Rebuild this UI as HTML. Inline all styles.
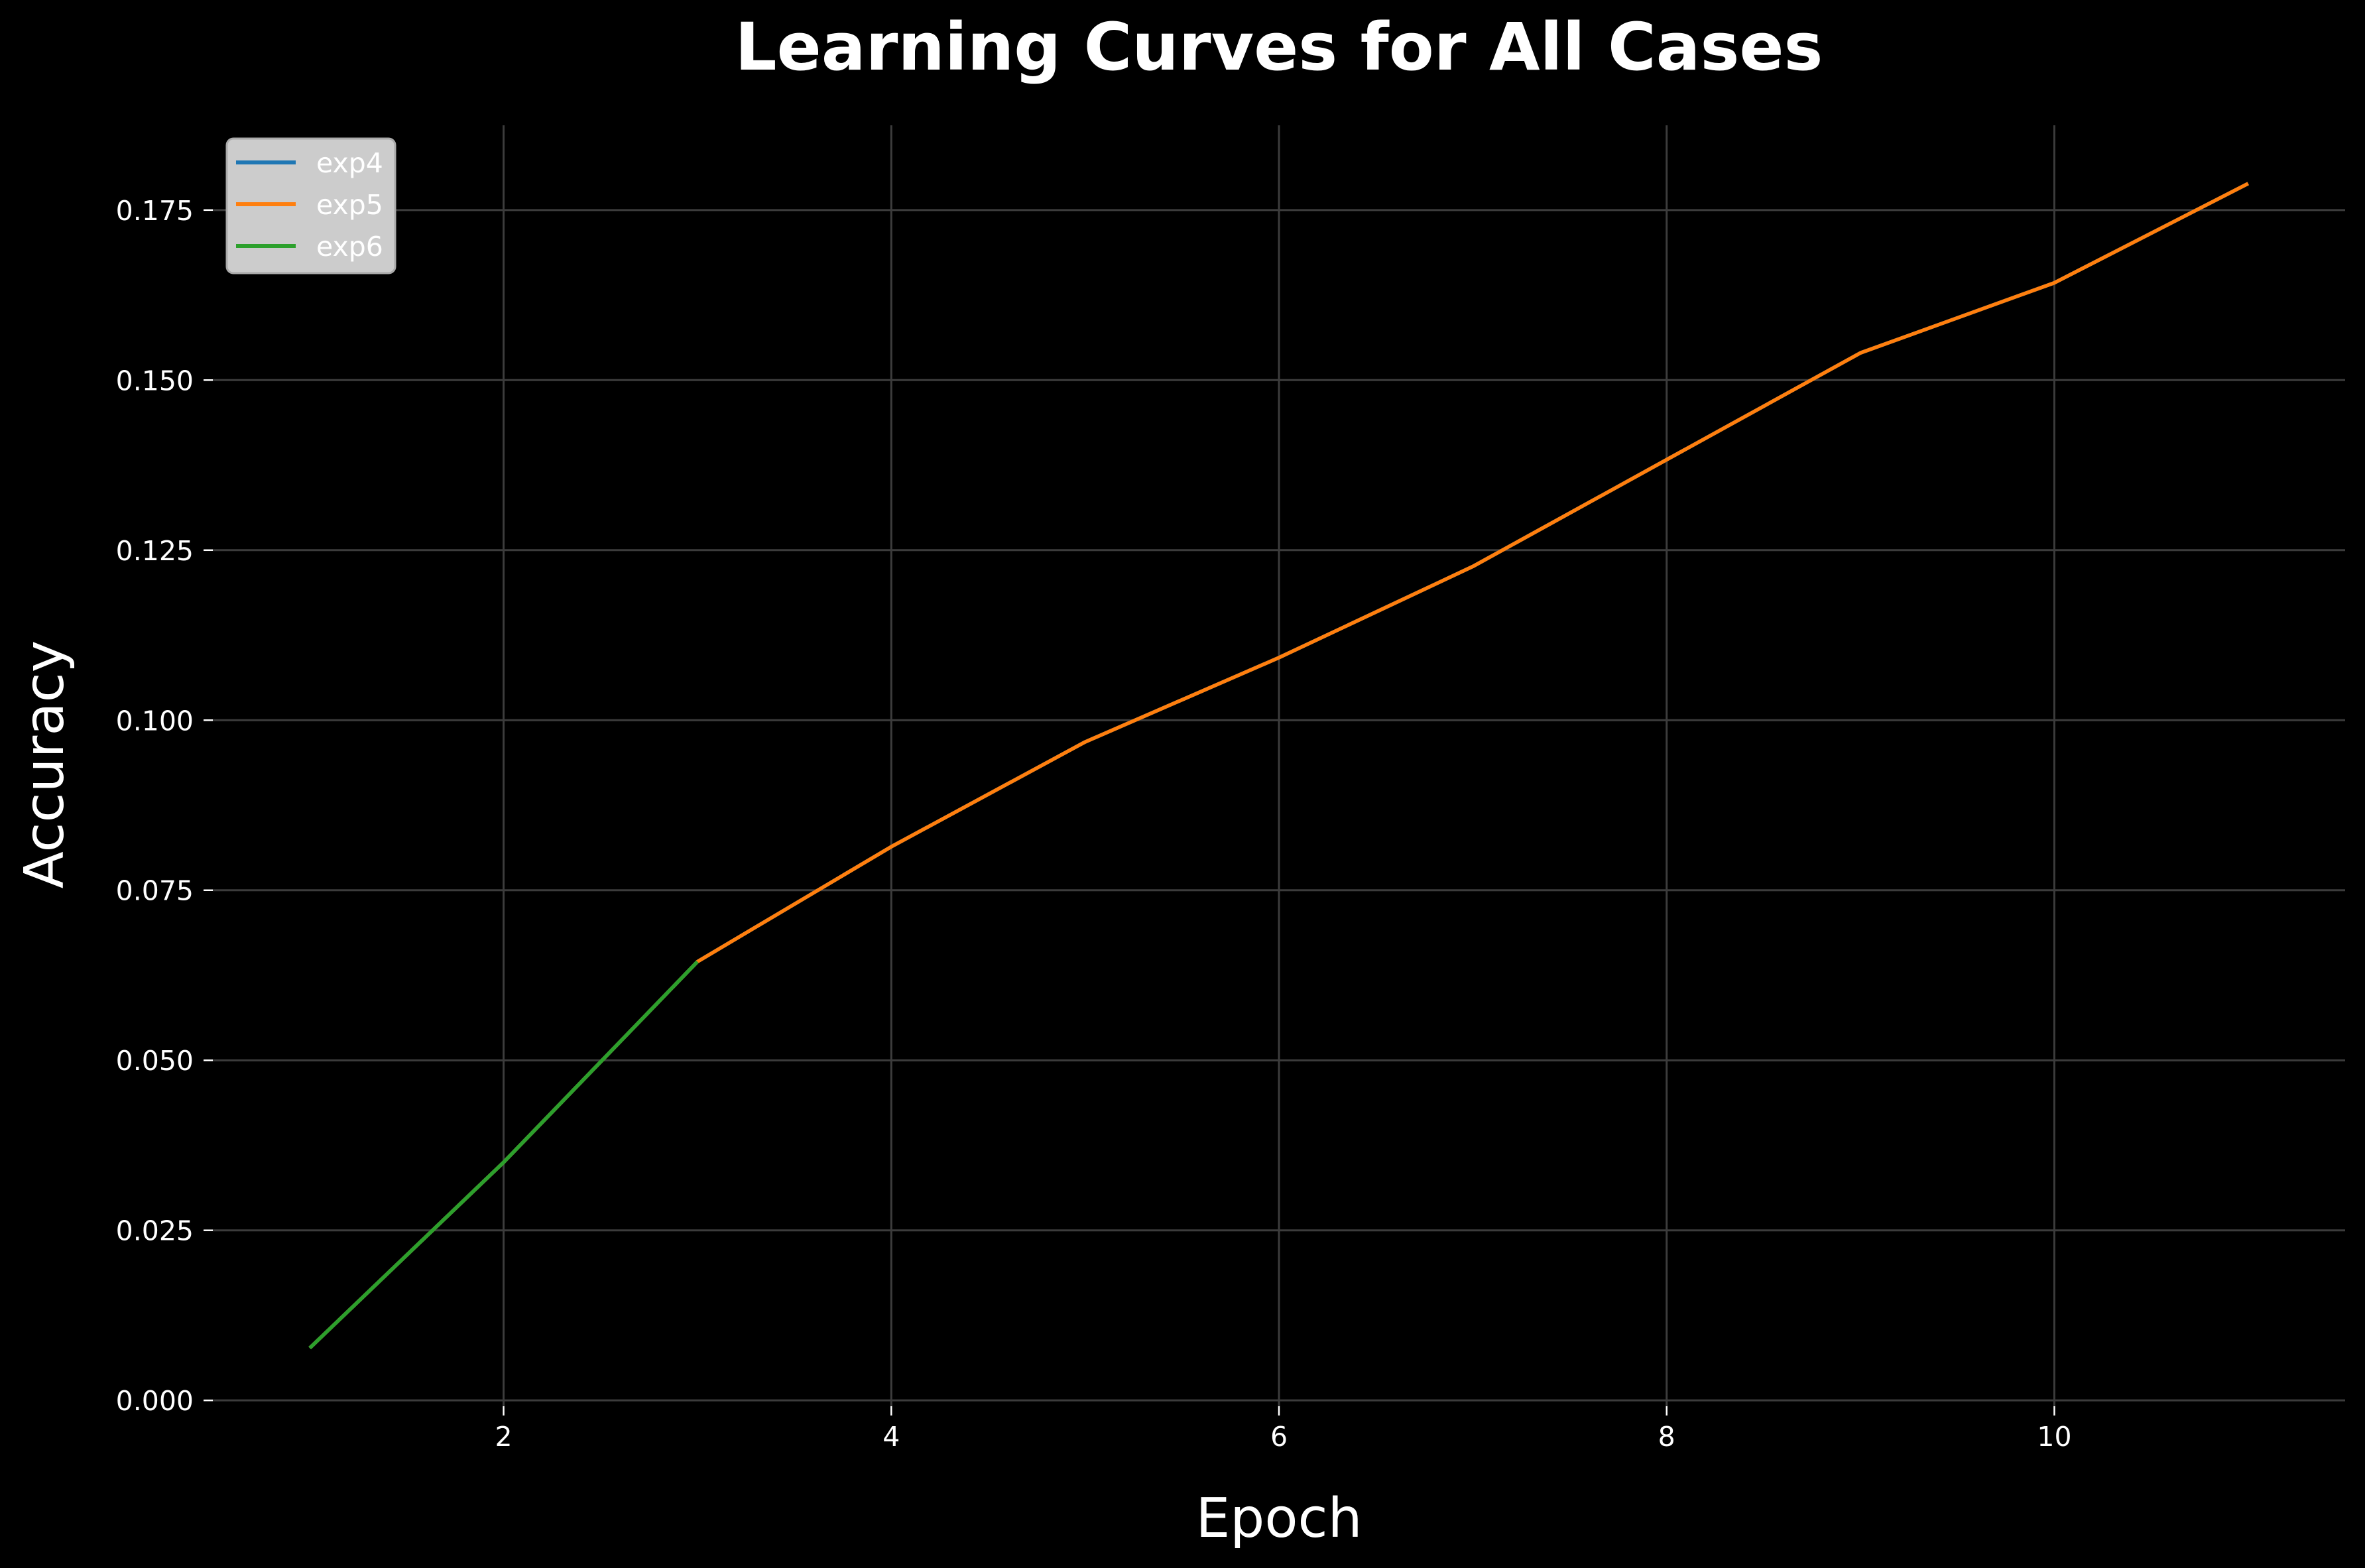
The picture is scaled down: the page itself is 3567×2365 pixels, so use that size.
<!DOCTYPE html>
<html><head><meta charset="utf-8"><style>
html,body{margin:0;padding:0;background:#000;}
svg{display:block;font-family:"DejaVu Sans","Liberation Sans",sans-serif;}
</style></head><body>
<svg id="chart" width="3567" height="2365" viewBox="0 0 3567 2365" xmlns="http://www.w3.org/2000/svg">
<rect width="3567" height="2365" fill="#000"/>
<text x="1929" y="105" fill="#fff" font-size="99" font-weight="bold" text-anchor="middle">Learning Curves for All Cases</text>
<g id="grid"></g>
<g id="ticks"></g>
<g id="series"></g>
<text x="1929" y="2318" fill="#fff" font-size="82" text-anchor="middle">Epoch</text>
<text x="0" y="0" transform="translate(95,1153) rotate(-90)" fill="#fff" font-size="82" text-anchor="middle">Accuracy</text>
<g>
<rect x="342" y="209" width="254" height="203" rx="10" fill="#cccccc" stroke="#aaaaaa" stroke-width="3"/>
<line x1="356" y1="245" x2="446" y2="245" stroke="#1f77b4" stroke-width="6"/>
<text x="477" y="260" fill="#fff" font-size="41">exp4</text>
<line x1="356" y1="308" x2="446" y2="308" stroke="#ff7f0e" stroke-width="6"/>
<text x="477" y="323" fill="#fff" font-size="41">exp5</text>
<line x1="356" y1="371" x2="446" y2="371" stroke="#2ca02c" stroke-width="6"/>
<text x="477" y="386" fill="#fff" font-size="41">exp6</text>
</g>
</svg>
<script>
const epochs = [1,2,3,4,5,6,7,8,9,10,11];
const exp4 = [0.0077,0.035,0.0645,0.0814,0.0968,0.1092,0.1226,0.1383,0.1540,0.1643,0.1789];
const exp5 = [0.0077,0.035,0.0645,0.0814,0.0968,0.1092,0.1226,0.1383,0.1540,0.1643,0.1789];
const exp6 = [0.0077,0.035,0.0645];
const xTicks = [2,4,6,8,10];
const yTicks = [0,0.025,0.05,0.075,0.1,0.125,0.15,0.175];
const yTickLabels = ["0.000","0.025","0.050","0.075","0.100","0.125","0.150","0.175"];

const NS = "http://www.w3.org/2000/svg";
const X0 = 321, X1 = 3537, Y0 = 2121, Y1 = 189;
const allY = exp4.concat(exp5, exp6);
const ymin = Math.min(...allY), ymax = Math.max(...allY);
const ylo = ymin - 0.05*(ymax-ymin), yhi = ymax + 0.05*(ymax-ymin);
const xmin = Math.min(...epochs), xmax = Math.max(...epochs);
const xlo = xmin - 0.05*(xmax-xmin), xhi = xmax + 0.05*(xmax-xmin);
function sx(v){ return X0 + (v - xlo)/(xhi - xlo)*(X1 - X0); }
function sy(v){ return Y0 - (v - ylo)/(yhi - ylo)*(Y0 - Y1); }
function mk(tag, attrs, parent){ const e=document.createElementNS(NS,tag); for(const k in attrs) e.setAttribute(k,attrs[k]); parent.appendChild(e); return e; }

const grid = document.getElementById('grid');
const ticks = document.getElementById('ticks');
xTicks.forEach(t=>{
  const g = mk('line',{x1:sx(t),x2:sx(t),y1:Y1,y2:Y0,stroke:'#3c3c3c','stroke-width':3},grid);
  
  
  const tk = mk('line',{x1:sx(t),x2:sx(t),y1:Y0,y2:Y0+14,stroke:'#fff','stroke-width':2.5},ticks);
  
  
  const tl = mk('text',{x:sx(t),y:2181,fill:'#fff','font-size':41,'text-anchor':'middle'},ticks);
  tl.textContent = String(t);
  
  
});
yTicks.forEach((t,i)=>{
  const g = mk('line',{x1:X0,x2:X1,y1:sy(t),y2:sy(t),stroke:'#3c3c3c','stroke-width':3},grid);
  
  
  const tk = mk('line',{x1:X0-14,x2:X0,y1:sy(t),y2:sy(t),stroke:'#fff','stroke-width':2.5},ticks);
  
  
  const tl = mk('text',{x:292,y:sy(t)+15,fill:'#fff','font-size':41,'text-anchor':'end'},ticks);
  tl.textContent = yTickLabels[i];
  
  
});

const series = document.getElementById('series');
[[exp4,'#1f77b4','exp4'],[exp5,'#ff7f0e','exp5'],[exp6,'#2ca02c','exp6']].forEach(([vals,color,name])=>{
  const pts = vals.map((v,i)=>sx(epochs[i])+','+sy(v)).join(' ');
  const pl = mk('polyline',{points:pts,fill:'none',stroke:color,'stroke-width':5.5,'stroke-linejoin':'round'},series);
  
  
});
</script>
</body></html>
